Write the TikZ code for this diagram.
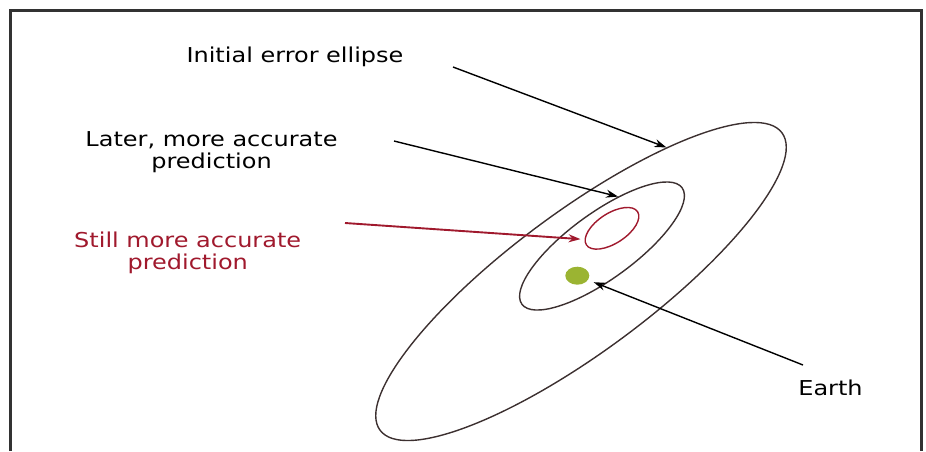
\documentclass[tikz,border=0pt]{standalone}
\usepackage{fontspec}
\setmainfont{DejaVu Sans}[FakeStretch=1.17]
\usetikzlibrary{shapes.geometric, arrows.meta}

\definecolor{framegray}{RGB}{50,50,50}
\definecolor{ringbrown}{RGB}{60,48,48}
\definecolor{predred}{RGB}{160,25,45}
\definecolor{earthgreen}{RGB}{155,180,50}

\begin{document}
\begin{tikzpicture}[x=1pt, y=-1pt,
    lbl/.style={inner sep=0pt, font=\fontsize{20.5}{22}\selectfont, align=center},
    errell/.style={ellipse, draw=ringbrown, line width=1.4pt, inner sep=0pt},
    pointer/.style={line width=1.4pt, -{Stealth[length=12pt, width=8pt]}}]
        \useasboundingbox (0,0) rectangle (926,451);
        % Frame
        \draw[framegray, line width=3pt] (10,451) -- (10,10) -- (921,10) -- (921,451);

        % Error ellipses
        \node[errell, minimum width=500pt, minimum height=140pt, rotate=36.5] (initial) at (581,281.5) {};
        \node[errell, minimum width=198pt, minimum height=66pt, rotate=36] (later) at (602,246) {};
        \node[errell, draw=predred, minimum width=61pt, minimum height=30pt, rotate=33] (still) at (612,228.3) {};
        \node[ellipse, fill=earthgreen, minimum width=24pt, minimum height=18pt, inner sep=0pt] (earth) at (577.3,275.7) {};

        % Labels
        \node[lbl, anchor=base] (initial label) at (295,62) {Initial error ellipse};
        \node[lbl] (later label) at (211.5,152.3) {Later, more accurate\\prediction};
        \node[lbl, text=predred] (still label) at (187.7,253.2) {Still more accurate\\prediction};
        \node[lbl, anchor=base] (earth label) at (830.5,395.7) {Earth};

        % Pointers
        \coordinate (initial tail) at (453,67);
        \coordinate (later tail) at (394,141);
        \coordinate (still tail) at (345,223);
        \coordinate (earth tail) at (803,365);
        \draw[pointer] (initial tail) -- (initial.21.6);
        \draw[pointer] (later tail) -- (later.36);
        \draw[pointer, predred, line width=1.9pt, shorten >=4pt] (still tail) -- (still.169);
        \draw[pointer, shorten >=6pt] (earth tail) -- (earth);
    \end{tikzpicture}
\end{document}
